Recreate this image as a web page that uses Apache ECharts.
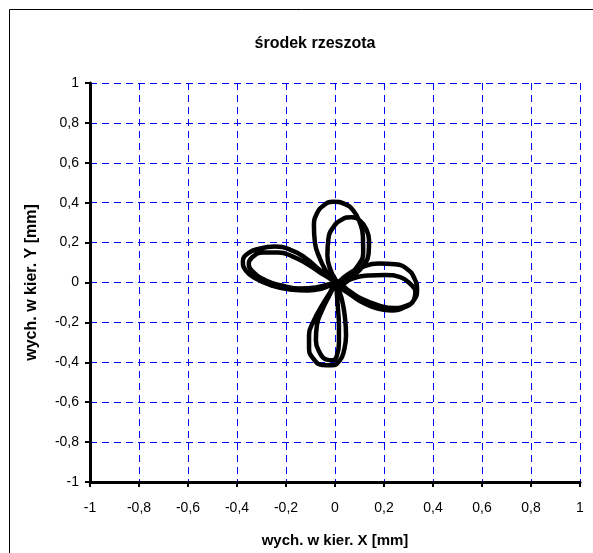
<!DOCTYPE html>
<html>
<head>
<meta charset="utf-8">
<script src="https://cdn.jsdelivr.net/npm/echarts@6/dist/echarts.min.js"></script>
<style>
  html, body { margin: 0; padding: 0; background: #fff; }
  #chart { width: 593px; height: 553px; }
</style>
</head>
<body>
<div id="chart"></div>
<script>
// axis ticks
const xTicks = [-1, -0.8, -0.6, -0.4, -0.2, 0, 0.2, 0.4, 0.6, 0.8, 1];
const yTicks = [-1, -0.8, -0.6, -0.4, -0.2, 0, 0.2, 0.4, 0.6, 0.8, 1];

// trajectory of the sieve centre (two passes)
const rightLoopA = [
  [0.014, 0], [0.055, 0.043], [0.109, 0.077], [0.178, 0.095], [0.246, 0.091],
  [0.294, 0.068], [0.325, 0.018], [0.335, -0.04], [0.321, -0.09], [0.287, -0.123],
  [0.232, -0.14], [0.178, -0.132], [0.123, -0.107], [0.068, -0.065], [0.02, -0.023]
];
const bottomLoopA = [
  [0.004, -0.005], [-0.02, -0.05], [-0.053, -0.115], [-0.086, -0.19], [-0.106, -0.265],
  [-0.106, -0.33], [-0.086, -0.385], [-0.053, -0.413], [-0.012, -0.415], [0.02, -0.39],
  [0.037, -0.34], [0.045, -0.265], [0.041, -0.18], [0.029, -0.09], [0.012, -0.03]
];
const leftLoopA = [
  [-0.02, 0.02], [-0.07, 0.07], [-0.123, 0.125], [-0.184, 0.165], [-0.245, 0.18],
  [-0.307, 0.17], [-0.356, 0.145], [-0.376, 0.105], [-0.364, 0.06], [-0.323, 0.02],
  [-0.258, -0.015], [-0.184, -0.035], [-0.11, -0.04], [-0.053, -0.03], [-0.012, -0.01]
];
const topLoopA = [
  [-0.007, -0.007], [-0.034, 0.052], [-0.061, 0.118], [-0.082, 0.2], [-0.086, 0.285],
  [-0.075, 0.343], [-0.048, 0.385], [-0.007, 0.405], [0.041, 0.393], [0.075, 0.36],
  [0.1, 0.305], [0.114, 0.23], [0.115, 0.15], [0.094, 0.085], [0.053, 0.03], [0.016, 0]
];
const rightLoopB = [
  [0.02, -0.015], [0.068, 0.018], [0.137, 0.035], [0.205, 0.038], [0.266, 0.027],
  [0.307, -0.007], [0.328, -0.048], [0.321, -0.09], [0.294, -0.115], [0.239, -0.128],
  [0.178, -0.115], [0.109, -0.082], [0.055, -0.04], [0.014, -0.007]
];
const bottomLoopB = [
  [0, -0.015], [-0.025, -0.07], [-0.053, -0.14], [-0.074, -0.215], [-0.078, -0.29],
  [-0.065, -0.345], [-0.037, -0.385], [-0.008, -0.39], [0.008, -0.365], [0.016, -0.305],
  [0.016, -0.215], [0.012, -0.13], [0.008, -0.065], [0.004, -0.02]
];
const leftLoopB = [
  [-0.012, 0.01], [-0.061, 0.05], [-0.11, 0.09], [-0.172, 0.13], [-0.233, 0.15],
  [-0.294, 0.15], [-0.339, 0.125], [-0.352, 0.09], [-0.331, 0.05], [-0.282, 0.01],
  [-0.217, -0.015], [-0.143, -0.03], [-0.078, -0.025], [-0.029, -0.01]
];
const topLoopB = [
  [0.007, 0], [-0.014, 0.05], [-0.031, 0.135], [-0.027, 0.218], [-0.007, 0.277],
  [0.027, 0.315], [0.068, 0.327], [0.102, 0.31], [0.127, 0.268], [0.139, 0.21],
  [0.137, 0.143], [0.116, 0.085], [0.075, 0.035], [0.027, 0]
];

const path = [].concat(
  rightLoopA, bottomLoopA, leftLoopA, topLoopA,
  rightLoopB, bottomLoopB, leftLoopB, topLoopB
);

const font = "'Liberation Sans', Arial, sans-serif";

function fmt(v) {
  return String(Math.round(v * 10) / 10).replace(".", ",");
}

function makeAxis(ticks, name, isX) {
  return {
    type: "value",
    min: ticks[0],
    max: ticks[ticks.length - 1],
    interval: 0.2,
    name: name,
    nameLocation: "middle",
    nameGap: isX ? 51 : 50,
    nameTextStyle: { fontFamily: font, fontSize: isX ? 15 : 16, fontWeight: "bold", color: "#000" },
    axisLine: { onZero: false, lineStyle: { color: "#000", width: 3 } },
    axisTick: { show: true, length: 5, inside: false, lineStyle: { color: "#000", width: 2 } },
    axisLabel: {
      fontFamily: font, fontSize: 14, color: "#000",
      margin: isX ? 19 : 11,
      formatter: fmt
    },
    splitLine: { show: true, lineStyle: { color: "#0000ff", width: 1, type: [7, 5] } }
  };
}

const chart = echarts.init(document.getElementById("chart"), null, { renderer: "canvas" });
chart.setOption({
  animation: false,
  backgroundColor: "#fff",
  title: {
    text: "środek rzeszota",
    left: 310,
    top: 31,
    textAlign: "center",
    textStyle: { fontFamily: font, fontSize: 16, fontWeight: "bold", color: "#000" }
  },
  graphic: [
    {
      type: "rect",
      shape: { x: 9.5, y: 9.5, width: 640, height: 640 },
      style: { fill: null, stroke: "#000", lineWidth: 1 },
      silent: true
    }
  ],
  grid: { left: 90, top: 83, width: 490, height: 399, containLabel: false },
  xAxis: makeAxis(xTicks, "wych. w kier. X [mm]", true),
  yAxis: makeAxis(yTicks, "wych. w kier. Y [mm]", false),
  series: [
    {
      type: "line",
      data: path,
      smooth: 0.5,
      showSymbol: false,
      lineStyle: { color: "#000", width: 4.5 },
      z: 5
    }
  ]
});
</script>
</body>
</html>
